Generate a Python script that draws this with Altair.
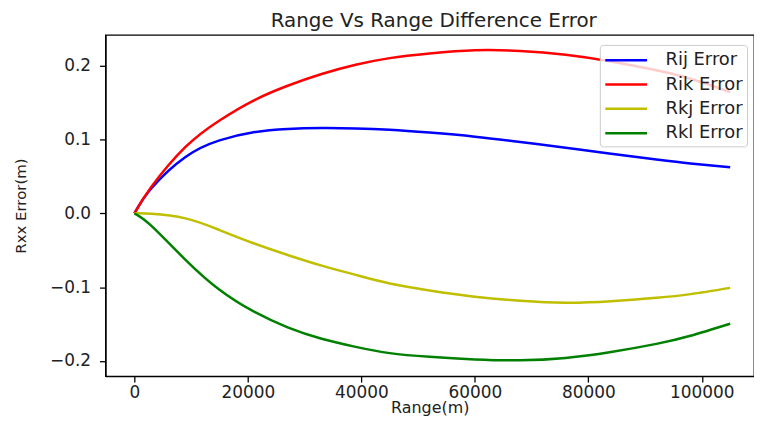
import altair as alt
import pandas as pd

# Range (m)
rng = [0, 3000, 9000, 15000, 21000, 27000, 33000, 39000, 45000, 52000,
       60000, 68000, 76000, 84000, 92000, 98000, 105000]
rij = [0, 0.034, 0.0765, 0.099, 0.110, 0.1145, 0.1157, 0.1152, 0.1133, 0.1095,
       0.1040, 0.0968, 0.0890, 0.0808, 0.0730, 0.0676, 0.0625]
rik = [0, 0.036, 0.090, 0.126, 0.153, 0.173, 0.189, 0.2015, 0.2105, 0.2168,
       0.2212, 0.2202, 0.2150, 0.2060, 0.1940, 0.1825, 0.1645]
rkj = [0, -0.0005, -0.0068, -0.0226, -0.0405, -0.0564, -0.0708, -0.0834, -0.095, -0.1045,
       -0.1130, -0.1185, -0.1212, -0.1192, -0.1145, -0.1095, -0.101]
rkl = [0, -0.017, -0.063, -0.1036, -0.133, -0.1545, -0.170, -0.181, -0.1895, -0.1945,
       -0.198, -0.1992, -0.196, -0.188, -0.177, -0.166, -0.1496]

series_names = ["Rij Error", "Rik Error", "Rkj Error", "Rkl Error"]
series_colors = ["#0000ff", "#ff0000", "#bfbf00", "#008000"]
x_ticks = [0, 20000, 40000, 60000, 80000, 100000]
y_ticks = [-0.2, -0.1, 0.0, 0.1, 0.2]

rows = []
for name, vals in zip(series_names, [rij, rik, rkj, rkl]):
    for i, (r, v) in enumerate(zip(rng, vals)):
        rows.append({"range": r, "err": v, "series": name, "order": i})
df = pd.DataFrame(rows)

FONT = "DejaVu Sans"
TXT = "#222222"

chart = alt.Chart(df).mark_line(strokeWidth=2.5, interpolate="natural").encode(
    x=alt.X("range:Q", title="Range(m)",
            scale=alt.Scale(domain=[-5100, 109200], nice=False, zero=False),
            axis=alt.Axis(values=x_ticks, format="d", grid=False,
                          labelFontSize=17, titleFontSize=16,
                          tickSize=6, labelPadding=2, titlePadding=0,
                          labelFlush=False)),
    y=alt.Y("err:Q", title="Rxx Error(m)",
            scale=alt.Scale(domain=[-0.2207, 0.2419], nice=False, zero=False),
            axis=alt.Axis(values=y_ticks, format=".1f", grid=False,
                          labelFontSize=17, titleFontSize=15,
                          tickSize=6, labelPadding=9, titlePadding=21)),
    color=alt.Color("series:N",
                    scale=alt.Scale(domain=series_names, range=series_colors),
                    legend=alt.Legend(title=None, orient="none",
                                      legendX=497, legendY=10,
                                      symbolType="M-1,0H3.2", symbolSize=400,
                                      symbolStrokeWidth=2.5,
                                      labelFontSize=18, labelOffset=39,
                                      rowPadding=3.4, padding=4,
                                      fillColor="rgba(255,255,255,0.8)",
                                      strokeColor="#cccccc", cornerRadius=3)),
    order="order:Q",
).properties(
    width=652,
    height=343,
    title=alt.TitleParams("Range Vs Range Difference Error", fontSize=20,
                          fontWeight="normal", offset=7, dx=4, dy=3, color=TXT),
    autosize=alt.AutoSizeParams(type="none"),
    padding={"left": 98, "top": 26, "right": 0, "bottom": 43},
).configure(
    font=FONT,
).configure_axis(
    domainColor="black", domainWidth=1.3, tickColor="black", tickWidth=1.3,
    labelColor=TXT, titleColor=TXT, labelFont=FONT, titleFont=FONT,
    titleFontWeight="normal",
).configure_legend(
    labelColor=TXT, labelFont=FONT,
).configure_view(
    stroke="black", strokeWidth=1.3,
)

chart.save("out.html", embed_options={"renderer": "svg", "actions": False})
